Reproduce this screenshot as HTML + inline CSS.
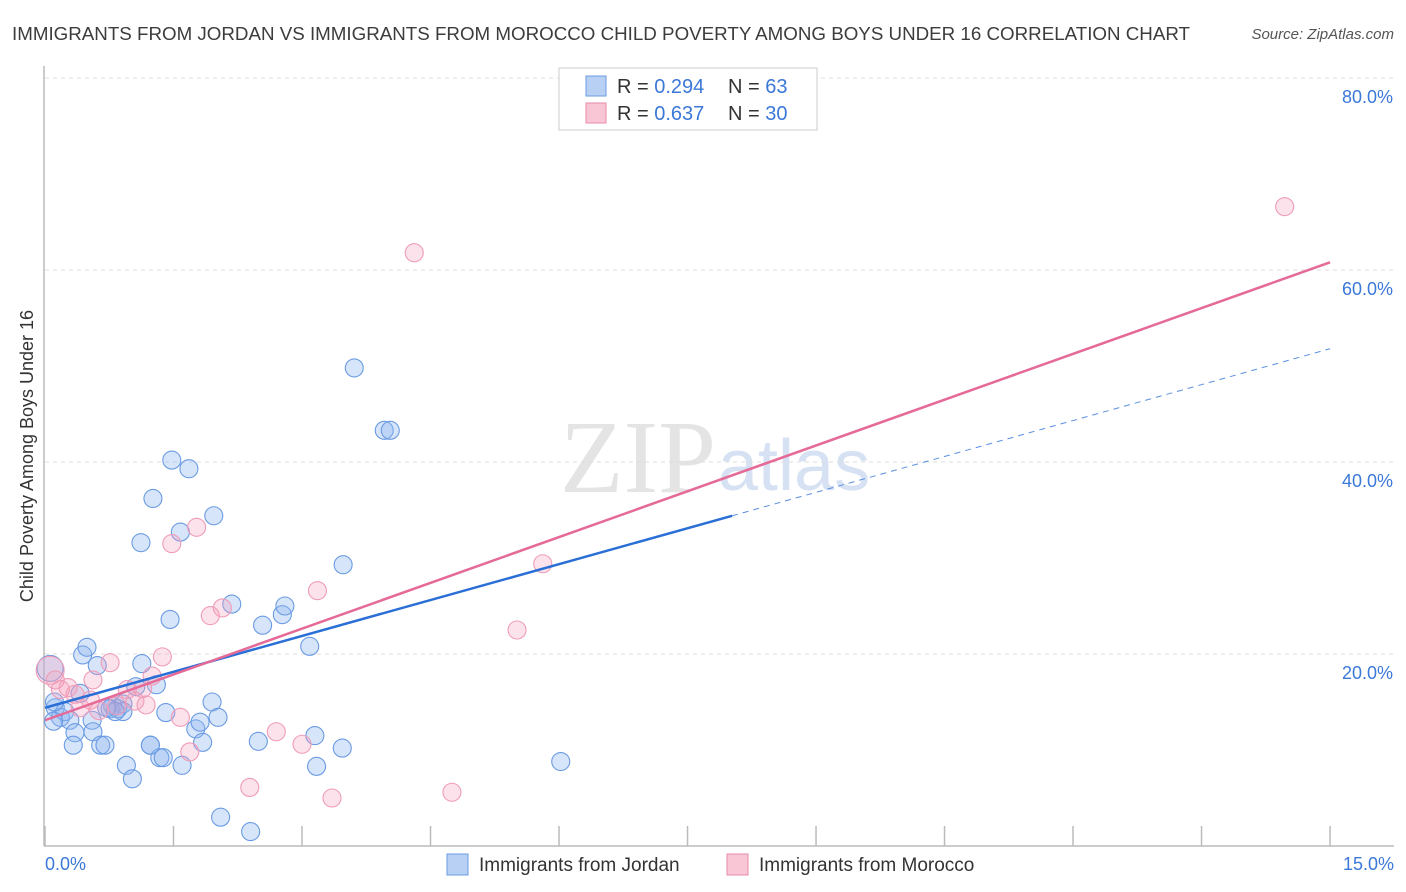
<!DOCTYPE html>
<html><head><meta charset="utf-8"><style>
body{margin:0;background:#fff;font-family:"Liberation Sans",sans-serif;}
svg{display:block}
</style></head><body>
<svg id="chart" width="1406" height="892">
<text x="12" y="40" font-size="18.5" fill="#3c3c3c" textLength="1178" lengthAdjust="spacingAndGlyphs">IMMIGRANTS FROM JORDAN VS IMMIGRANTS FROM MOROCCO CHILD POVERTY AMONG BOYS UNDER 16 CORRELATION CHART</text>
<text x="1394" y="39" font-size="15" fill="#555" font-style="italic" text-anchor="end">Source: ZipAtlas.com</text>
<text x="716" y="492" font-size="104" fill="#e4e4e4" text-anchor="end" font-family="Liberation Serif,serif">ZIP</text>
<text x="718" y="490" font-size="72" fill="#d6e2f3">atlas</text>
<g id="grid"></g><g id="axes"></g><g id="pts"></g><g id="lines"></g>
<text x="33" y="456" font-size="18" fill="#333" text-anchor="middle" transform="rotate(-90 33 456)">Child Poverty Among Boys Under 16</text>
<text x="45" y="870" font-size="18" fill="#3b78d8">0.0%</text>
<text x="1394" y="870" font-size="18" fill="#3b78d8" text-anchor="end">15.0%</text>
<g>
<rect x="559" y="68" width="258" height="62" fill="#fff" stroke="#ccc"/>
<rect x="586" y="76" width="20" height="20" fill="#b8d0f4" stroke="#6a9be0"/>
<rect x="586" y="103" width="20" height="20" fill="#f9c6d6" stroke="#e88aa8"/>
<text x="617" y="93" font-size="20" fill="#333">R = <tspan fill="#3b78d8">0.294</tspan></text>
<text x="728" y="93" font-size="20" fill="#333">N = <tspan fill="#3b78d8">63</tspan></text>
<text x="617" y="120" font-size="20" fill="#333">R = <tspan fill="#3b78d8">0.637</tspan></text>
<text x="728" y="120" font-size="20" fill="#333">N = <tspan fill="#3b78d8">30</tspan></text>
</g>
<g>
<rect x="447" y="854" width="21" height="21" fill="#b8d0f4" stroke="#6a9be0"/>
<text x="479" y="871" font-size="19" fill="#333">Immigrants from Jordan</text>
<rect x="727" y="854" width="21" height="21" fill="#f9c6d6" stroke="#e88aa8"/>
<text x="759" y="871" font-size="19" fill="#333">Immigrants from Morocco</text>
</g>
</svg>
<script>
const yTicks=[20,40,60,80];
const xTickCount=10;
const jordanX=[0.06,0.12,0.18,0.23,0.29,0.35,0.33,0.44,0.49,0.61,0.41,0.55,0.56,0.65,0.7,0.79,0.85,0.91,0.95,1.02,1.06,1.13,1.12,1.23,1.26,1.30,1.34,1.38,1.41,1.46,1.48,1.6,1.58,1.68,1.76,1.81,1.84,1.95,1.97,2.02,2.05,2.18,2.40,2.49,2.54,2.77,2.80,3.09,3.15,3.17,3.48,3.47,3.61,3.96,4.03,6.02,1.23,0.91,0.76,0.82,0.72,0.11,0.10];
const jordanY=[18.5,14.4,13.4,14.0,13.1,11.8,10.5,19.9,20.7,18.8,15.9,13.1,11.9,10.5,10.5,14.6,14.3,14.8,8.4,7.0,16.6,19.0,31.6,10.5,36.2,16.8,9.2,9.2,13.9,23.6,40.2,8.4,32.7,39.3,12.2,12.9,10.8,15.0,34.4,13.4,3.0,25.2,1.5,10.9,23.0,24.1,25.0,20.8,11.5,8.3,29.3,10.2,49.8,43.3,43.3,8.8,10.5,14.0,14.3,14.0,14.4,15.0,13.0];
const moroccoX=[0.06,0.12,0.18,0.27,0.35,0.41,0.53,0.56,0.63,0.76,0.84,0.96,1.05,1.14,1.18,1.25,1.37,1.48,1.58,1.69,1.77,1.93,2.07,2.39,2.70,3.00,3.18,3.35,4.31,4.75,5.51,5.81,14.47];
const moroccoY=[18.3,17.3,16.3,16.5,15.8,14.4,15.2,17.3,14.1,19.1,14.6,16.3,15.1,16.4,14.7,17.7,19.7,31.5,13.4,9.8,33.2,24.0,24.8,6.1,11.9,10.6,26.6,5.0,61.8,5.6,22.5,29.4,66.6];
const blueLine=[14.4,51.8], blueSolidEnd=8.02, pinkLine=[13.1,60.8];
const X=v=>45+v*85.67, Y=v=>846-v*9.6;
const NS='http://www.w3.org/2000/svg';
function mk(t,a,p){const e=document.createElementNS(NS,t);for(const k in a)e.setAttribute(k,a[k]);p.appendChild(e);return e;}
const grid=document.getElementById('grid'),axes=document.getElementById('axes');
yTicks.forEach(t=>{
 const l=mk('line',{x1:45,x2:1394,y1:Y(t),y2:Y(t),stroke:'#ddd','stroke-dasharray':'4,4'},grid);
 
 
 const tx=mk('text',{x:1393,y:Y(t)+25,'font-size':18,fill:'#3b78d8','text-anchor':'end'},grid);
 tx.textContent=t.toFixed(1)+'%';
 
 
});
mk('line',{x1:44,x2:44,y1:66,y2:846,stroke:'#bbb','stroke-width':1.5},axes);
mk('line',{x1:44,x2:1394,y1:846,y2:846,stroke:'#bbb','stroke-width':1.5},axes);
for(let i=0;i<=xTickCount;i++){const t=mk('line',{x1:X(i*1.5),x2:X(i*1.5),y1:826,y2:846,stroke:'#bbb','stroke-width':1.5},axes);
 
 }
const pts=document.getElementById('pts');
jordanX.forEach((x,i)=>{const c=mk('circle',{cx:X(x),cy:Y(jordanY[i]),r:i==0?13:9,fill:'rgba(140,180,240,0.35)',stroke:'#6a9be2','stroke-width':1.1},pts);
 
 });
moroccoX.forEach((x,i)=>{const c=mk('circle',{cx:X(x),cy:Y(moroccoY[i]),r:i==0?14:9,fill:'rgba(245,160,190,0.3)',stroke:'#ef9cb8','stroke-width':1.1},pts);
 
 });
const lines=document.getElementById('lines');
const by=x=>blueLine[0]+(blueLine[1]-blueLine[0])*x/15;
let l1=mk('line',{x1:X(0),y1:Y(by(0)),x2:X(blueSolidEnd),y2:Y(by(blueSolidEnd)),stroke:'#2a6fd6','stroke-width':2.5},lines);


let l2=mk('line',{x1:X(blueSolidEnd),y1:Y(by(blueSolidEnd)),x2:X(15),y2:Y(by(15)),stroke:'#5a8fe0','stroke-width':1,'stroke-dasharray':'6,5'},lines);


let l3=mk('line',{x1:X(0),y1:Y(pinkLine[0]),x2:X(15),y2:Y(pinkLine[1]),stroke:'#e56a97','stroke-width':2.5},lines);


</script>
</body></html>
